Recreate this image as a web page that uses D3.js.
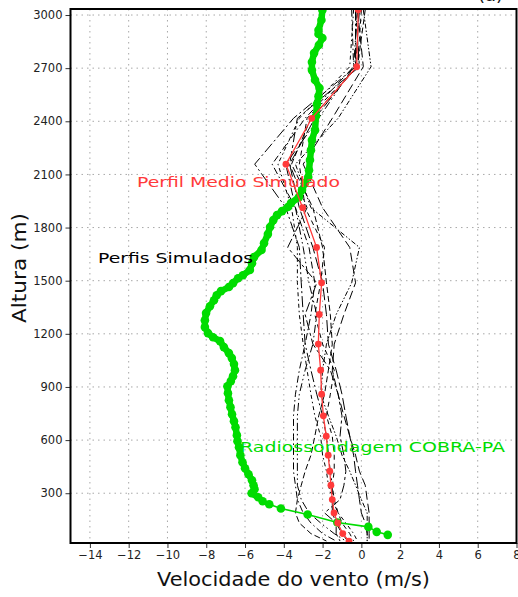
<!DOCTYPE html>
<html>
<head>
<meta charset="utf-8">
<script src="https://cdn.jsdelivr.net/npm/d3@7"></script>
<style>
  html, body { margin: 0; padding: 0; background: #fff; }
  svg { display: block; }
  text { font-family: "DejaVu Sans", sans-serif; }
</style>
</head>
<body>
<svg id="chart" width="518" height="597"></svg>
<script>
// Model levels (m) shared by the simulated profiles and their mean
const levels = [3030, 2708, 2417, 2158, 1912, 1688, 1488, 1309, 1142, 995, 859, 737, 622, 515, 424, 345, 264, 189, 132, 72, 30];

// Mean simulated wind speed (m/s) at each level
const meanProfile = [-0.16, -0.24, -2.56, -3.89, -3.03, -2.31, -2.05, -2.17, -2.22, -2.10, -2.05, -1.96, -1.81, -1.71, -1.63, -1.57, -1.50, -1.41, -1.22, -0.96, -0.64];

// Individual simulated profiles (m/s) at each level
const simProfiles = [
  [-0.5, -0.4, -2.9, -4.6, -3.4, -2.7, -2.4, -2.6, -2.9, -3.2, -3.4, -3.5, -3.5, -3.5, -3.5, -3.4, -3.3, -3.0, -2.6, -2.0, -1.3],
  [-0.2,  0.1, -1.5, -3.0, -2.0, -0.6, -0.3, -0.9, -1.4, -1.5, -1.2, -0.9, -0.6, -0.3, -0.1,  0.2,  0.3,  0.4,  0.4,  0.4,  0.4],
  [ 0.1,  0.5, -1.2, -3.4, -2.6, -0.1, -0.5, -1.3, -1.8, -2.0, -2.1, -1.7, -1.3, -1.0, -0.6, -0.3,  0.0,  0.3,  0.3,  0.3,  0.3],
  [-0.3, -0.3, -3.5, -5.5, -3.9, -3.2, -3.1, -3.0, -2.9, -2.6, -2.3, -2.0, -1.8, -1.7, -1.6, -1.5, -1.5, -1.5, -1.3, -1.0, -0.7],
  [ 0.2, -0.2, -2.6, -3.6, -2.5, -2.0, -1.8, -1.6, -1.5, -1.7, -1.9, -2.2, -2.4, -2.6, -2.9, -3.1, -3.3, -3.4, -3.2, -2.6, -1.8],
  [-0.4, -0.6, -3.2, -4.3, -3.6, -3.3, -3.3, -3.2, -3.0, -2.8, -2.6, -2.4, -2.1, -2.0, -1.8, -1.7, -1.5, -1.2, -0.8, -0.4, -0.2],
  [-0.1, -0.3, -2.4, -3.7, -3.2, -2.5, -2.0, -1.8, -1.7, -1.3, -1.0, -0.8, -0.6, -0.4, -0.3, -0.2, -0.1,  0.0,  0.2,  0.3,  0.3],
  [-0.2, -0.4, -2.2, -3.9, -3.4, -3.0, -2.7, -2.3, -2.5, -2.9, -3.2, -3.3, -3.3, -3.3, -3.3, -3.3, -3.1, -2.7, -2.1, -1.4, -0.8],
  [ 0.0, -0.2, -2.8, -3.2, -2.9, -1.9, -2.1, -2.4, -2.0, -1.4, -1.6, -1.8, -1.5, -1.4, -1.4, -1.5, -1.4, -1.2, -1.0, -0.6, -0.4],
  [-0.3, -0.1, -3.3, -3.7, -2.8, -3.8, -2.3, -2.9, -2.5, -1.6, -1.2, -1.0, -1.1, -0.9, -0.8, -0.9, -1.1, -1.9, -1.3, -1.3, -1.1]
];

// Radiosonde COBRA-PA: heights (m) and wind speed (m/s)
const sondeHeight = [3028, 2972, 2915, 2893, 2870, 2831, 2785, 2735, 2689, 2633, 2588, 2542, 2497, 2430, 2350, 2294, 2237, 2181, 2124, 2085,
  2051, 2012, 1972, 1938, 1916, 1893, 1870, 1842, 1803, 1763, 1712, 1673, 1633, 1599, 1560, 1531, 1514, 1486, 1464, 1441,
  1418, 1390, 1356, 1317, 1277, 1238, 1204, 1181, 1159, 1125, 1091, 1063, 1029, 995, 961, 933, 904, 865, 825, 786,
  746, 707, 673, 628, 594, 560, 515, 475, 441, 407, 373, 345, 323, 300, 277, 255, 238, 214, 180, 135, 110, 82, 65];
const sondeSpeed = [-2.01, -2.06, -2.21, -2.21, -2.01, -2.19, -2.44, -2.55, -2.55, -2.39, -2.16, -2.21, -2.29, -2.34, -2.39, -2.55, -2.60, -2.65, -2.70, -2.74,
  -2.91, -3.06, -3.22, -3.63, -3.79, -4.09, -4.35, -4.54, -4.71, -4.82, -5.02, -5.15, -5.54, -5.64, -5.75, -6.11, -6.36, -6.62, -6.83, -7.24,
  -7.46, -7.60, -7.81, -8.01, -8.07, -8.07, -7.91, -7.65, -7.29, -7.09, -6.83, -6.68, -6.57, -6.52, -6.62, -6.73, -6.91, -6.88, -6.83, -6.75,
  -6.67, -6.57, -6.49, -6.42, -6.39, -6.31, -6.24, -6.13, -6.00, -5.82, -5.64, -5.56, -5.51, -5.66, -5.32, -5.09, -4.75, -4.15, -2.77, -1.24, 0.36, 0.79, 1.36];

const xTicks = [-14, -12, -10, -8, -6, -4, -2, 0, 2, 4, 6, 8];
const yTicks = [300, 600, 900, 1200, 1500, 1800, 2100, 2400, 2700, 3000];

const labelMean = "Perfil Medio Simulado";
const labelSims = "Perfis Simulados";
const labelSonde = "Radiossondagem COBRA-PA";
const xTitle = "Velocidade do vento (m/s)";
const yTitle = "Altura (m)";
const panelTag = "(a)";

const svg = d3.select("#chart");
const padL = 70.5, padR = 516.5, padT = 9, padB = 543;

const x = d3.scaleLinear().domain([-15, 8]).range([padL, padR]);
const y = d3.scaleLinear().domain([19, 3034]).range([padB, padT]);

const RED = "#ff3a3a", GREEN = "#00dc00";

// dotted grid
const grid = svg.append("g").attr("stroke", "#a8a8a8").attr("stroke-width", 1).attr("stroke-dasharray", "1.5,4");
grid.selectAll("line.gx").data(xTicks.filter(t => t < 8)).join("line")
  .attr("x1", d => x(d)).attr("x2", d => x(d)).attr("y1", padT).attr("y2", padB);
grid.selectAll("line.gy").data(yTicks).join("line")
  .attr("x1", padL).attr("x2", padR).attr("y1", d => y(d)).attr("y2", d => y(d));

// axes
const fmt = d => d < 0 ? "\u2212" + Math.abs(d) : String(d);
const gx = svg.append("g").attr("transform", `translate(0,${padB})`)
  .call(d3.axisBottom(x).tickValues(xTicks).tickFormat(fmt).tickSize(5).tickPadding(3));
const gy = svg.append("g").attr("transform", `translate(${padL},0)`)
  .call(d3.axisLeft(y).tickValues(yTicks).tickFormat(d => String(d)).tickSize(5).tickPadding(3));
[gx, gy].forEach(g => {
  g.select(".domain").remove();
  g.selectAll(".tick line").attr("stroke", "#333");
  g.selectAll(".tick text").attr("fill", "#222").style("font-size", "11.5px")
    .style("font-family", "'DejaVu Sans', sans-serif");
});

// plot area clip
svg.append("clipPath").attr("id", "plotClip").append("rect")
  .attr("x", padL).attr("y", padT).attr("width", padR - padL).attr("height", padB - padT);
const plot = svg.append("g").attr("clip-path", "url(#plotClip)");

// simulated profiles
const dashes = ["7,3,1.5,3", "9,4", "5,2,1.5,2,1.5,2", "11,3,2,3", "6,3", "4,3,1.5,3", "12,4", "8,3,1.5,3,1.5,3", "5,4", "10,3,3,3"];
const lineV = d3.line().x(d => x(d[1])).y(d => y(d[0]));
plot.selectAll("path.sim").data(simProfiles).join("path")
  .attr("class", "sim")
  .attr("d", p => lineV(levels.map((h, i) => [h, p[i]])))
  .attr("fill", "none").attr("stroke", "#000").attr("stroke-width", 1)
  .attr("stroke-dasharray", (d, i) => dashes[i % dashes.length]);

// radiosonde
const sonde = sondeHeight.map((h, i) => [h, sondeSpeed[i]]);
const denseEnd = sonde.findIndex(d => d[0] < 290);
plot.append("path").attr("d", lineV(sonde.slice(0, denseEnd + 1)))
  .attr("fill", "none").attr("stroke", GREEN).attr("stroke-width", 6.5).attr("stroke-linejoin", "round");
plot.append("path").attr("d", lineV(sonde))
  .attr("fill", "none").attr("stroke", GREEN).attr("stroke-width", 1.6);
plot.selectAll("circle.sonde").data(sonde).join("circle")
  .attr("cx", d => x(d[1])).attr("cy", d => y(d[0])).attr("r", 4.3).attr("fill", GREEN);

// mean profile
const meanPts = levels.map((h, i) => [h, meanProfile[i]]);
plot.append("path").attr("d", lineV(meanPts))
  .attr("fill", "none").attr("stroke", RED).attr("stroke-width", 1.3);
plot.selectAll("circle.mean").data(meanPts).join("circle")
  .attr("cx", d => x(d[1])).attr("cy", d => y(d[0])).attr("r", 3.4).attr("fill", RED);

// frame
svg.append("rect").attr("x", padL).attr("y", padT).attr("width", padR - padL).attr("height", padB - padT)
  .attr("fill", "none").attr("stroke", "#000").attr("stroke-width", 2);

// curve labels
const lbl = (txt, x0, yb, w, col) => svg.append("text").attr("x", x0).attr("y", yb)
  .attr("textLength", w).attr("lengthAdjust", "spacingAndGlyphs")
  .attr("fill", col).style("font-size", "14px").text(txt);
lbl(labelMean, 137, 187, 203, RED);
lbl(labelSims, 98, 263, 155, "#000");
lbl(labelSonde, 240, 452, 265, GREEN);

// axis titles
svg.append("text").attr("x", 157).attr("y", 586).attr("textLength", 273).attr("lengthAdjust", "spacingAndGlyphs")
  .attr("fill", "#111").style("font-size", "20px").text(xTitle);
svg.append("text").attr("transform", "translate(26,323) rotate(-90)")
  .attr("textLength", 110).attr("lengthAdjust", "spacingAndGlyphs")
  .attr("fill", "#111").style("font-size", "20px").text(yTitle);

// panel tag
svg.append("text").attr("x", 478).attr("y", 1).attr("fill", "#111").style("font-size", "18px").text(panelTag);
</script>
</body>
</html>
